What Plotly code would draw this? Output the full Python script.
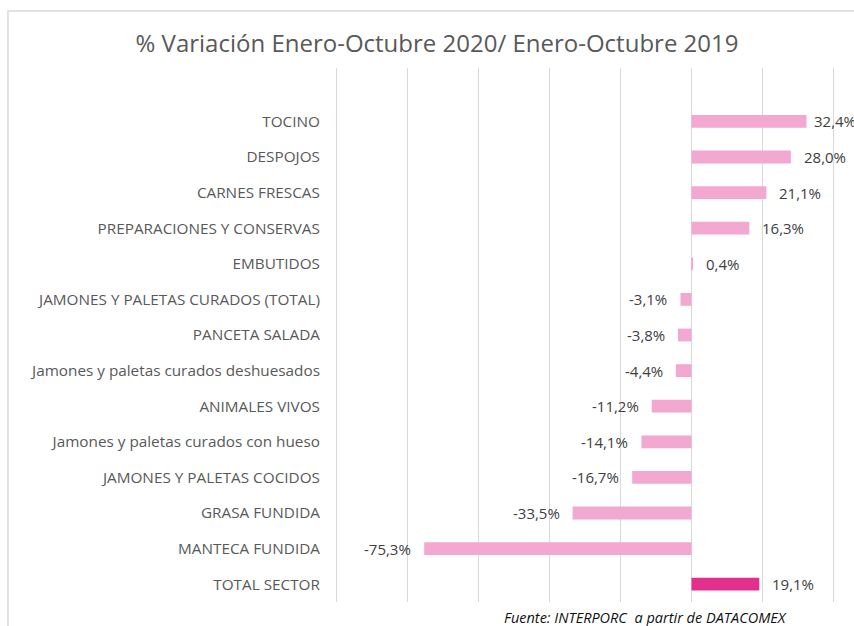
import plotly.graph_objects as go

categories = [
    "TOCINO",
    "DESPOJOS",
    "CARNES FRESCAS",
    "PREPARACIONES Y CONSERVAS",
    "EMBUTIDOS",
    "JAMONES Y PALETAS CURADOS (TOTAL)",
    "PANCETA SALADA",
    "Jamones y paletas curados deshuesados",
    "ANIMALES VIVOS",
    "Jamones y paletas curados con hueso",
    "JAMONES Y PALETAS COCIDOS",
    "GRASA FUNDIDA",
    "MANTECA FUNDIDA",
    "TOTAL SECTOR",
]
values = [32.4, 28.0, 21.1, 16.3, 0.4, -3.1, -3.8, -4.4, -11.2, -14.1, -16.7, -33.5, -75.3, 19.1]
title_text = "% Variación Enero-Octubre 2020/ Enero-Octubre 2019"
source_text = "Fuente: INTERPORC  a partir de DATACOMEX"

LIGHT = "#F2A8D1"
DARK = "#E3308C"
colors = [DARK if c == "TOTAL SECTOR" else LIGHT for c in categories]
labels = [f"{v:.1f}%".replace(".", ",") for v in values]

FONT = "'Open Sans', Lato, sans-serif"

fig = go.Figure(
    go.Bar(
        y=categories,
        x=values,
        orientation="h",
        marker=dict(color=colors, line=dict(width=0)),
        hoverinfo="skip",
    )
)

vmax = max(values)
# data labels placed at each bar end through the axes
for cat, v, lab in zip(categories, values, labels):
    pos = v >= 0
    gap = 6 if v == vmax else 11
    fig.add_annotation(
        x=v, y=cat, xref="x", yref="y",
        text=lab,
        showarrow=False,
        xanchor="left" if pos else "right",
        yanchor="middle",
        xshift=gap if pos else -gap,
        font=dict(family=FONT, size=15, color="#404040"),
    )

W, H = 854, 626
XMIN, XMAX = -101, 41
PXU = (833 - 337) / 140.0
L = 337 - (-100 - XMIN) * PXU
R = W - (833 + (XMAX - 40) * PXU)
T, B = 68, 24

fig.update_layout(
    width=W,
    height=H,
    margin=dict(l=L, r=R, t=T, b=B, autoexpand=False),
    paper_bgcolor="white",
    plot_bgcolor="white",
    showlegend=False,
    bargap=0.64,
    font=dict(family=FONT, color="#595959"),
    title=dict(
        text=title_text,
        x=437 / W,
        xanchor="center",
        xref="container",
        y=1 - 44 / H,
        yanchor="middle",
        yref="container",
        font=dict(family=FONT, size=24, color="#595959"),
    ),
    xaxis=dict(
        range=[XMIN, XMAX],
        tickvals=[-100, -80, -60, -40, -20, 0, 20, 40],
        showgrid=True,
        gridcolor="#D9D9D9",
        gridwidth=1.3,
        zeroline=False,
        showticklabels=False,
        showline=False,
        fixedrange=True,
    ),
    yaxis=dict(
        type="category",
        categoryorder="array",
        categoryarray=categories,
        range=[len(categories) - 0.5, -1.5],
        showgrid=False,
        zeroline=False,
        showline=False,
        ticks="outside",
        ticklen=9,
        tickcolor="rgba(0,0,0,0)",
        tickfont=dict(family=FONT, size=15.3, color="#595959"),
        fixedrange=True,
    ),
)

pw = W - L - R
ph = H - T - B
def px_x(p):
    return (p - L) / pw
def px_y(p):
    return (H - B - p) / ph

fig.add_shape(
    type="rect",
    xref="paper", yref="paper",
    x0=px_x(9), x1=px_x(870), y0=px_y(640), y1=px_y(11),
    line=dict(color="#D9D9D9", width=1.5),
    fillcolor="rgba(0,0,0,0)",
    layer="below",
)

fig.add_annotation(
    text=f"<i>{source_text}</i>",
    xref="paper", yref="paper",
    x=px_x(789), y=px_y(617),
    xanchor="right", yanchor="middle",
    showarrow=False,
    font=dict(family=FONT, size=14.5, color="#111111"),
)

fig.write_html(
    "out.html",
    config={"displayModeBar": False},
    post_script="document.body.style.margin='0';",
)
